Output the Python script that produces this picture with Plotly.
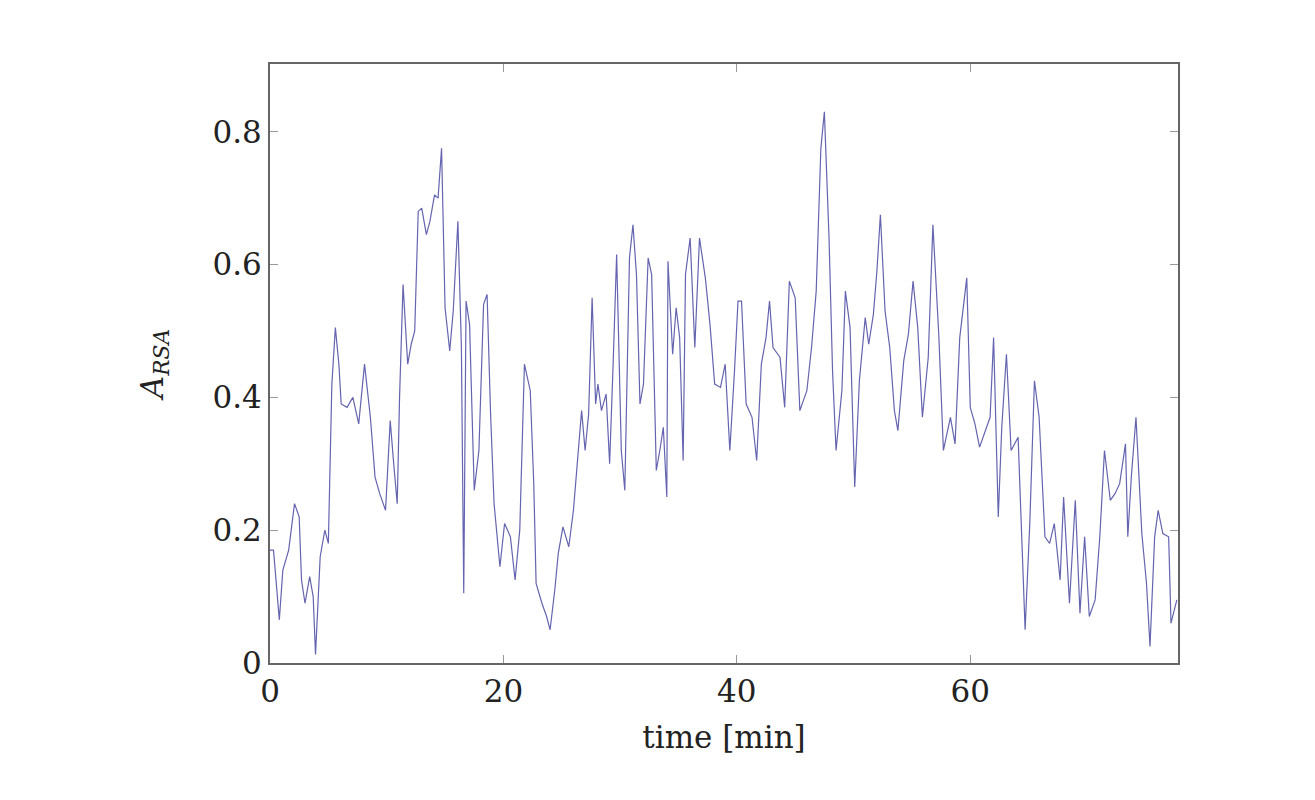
import plotly.graph_objects as go

t = [0,0.3,0.8,1.1,1.6,2.1,2.5,2.7,3.0,3.4,3.7,3.9,4.3,4.7,5.0,5.3,5.6,5.9,6.1,6.6,7.1,7.6,8.1,8.6,9.0,9.4,9.9,10.3,10.6,10.9,11.1,11.4,11.8,12.1,12.4,12.7,13.0,13.4,13.7,14.1,14.4,14.7,15.0,15.4,15.7,16.1,16.4,16.6,16.8,17.1,17.5,17.9,18.3,18.6,18.9,19.2,19.7,20.1,
     20.6,21.0,21.4,21.8,22.3,22.6,22.8,23.3,23.7,24.0,24.4,24.7,25.1,25.6,26.0,26.4,26.7,27.0,27.3,27.6,27.9,28.1,28.4,28.8,29.1,29.4,29.7,30.1,30.4,30.8,31.1,31.4,31.7,32.0,32.4,32.7,33.1,33.4,33.7,34.0,34.1,34.5,34.8,35.1,35.4,35.6,36.0,36.4,36.8,37.3,37.7,38.1,38.6,39.0,39.4,39.8,
     40.1,40.4,40.8,41.3,41.7,42.1,42.5,42.8,43.1,43.7,44.1,44.5,45.0,45.4,46.0,46.4,46.8,47.2,47.5,47.9,48.2,48.5,49.0,49.3,49.7,50.1,50.5,51.0,51.3,51.7,52.0,52.3,52.7,53.1,53.5,53.8,54.3,54.7,55.1,55.5,55.9,56.4,56.8,57.3,57.7,58.3,58.7,59.1,59.7,
     60.0,60.4,60.8,61.2,61.7,62.0,62.4,62.7,63.1,63.5,64.1,64.7,65.1,65.5,65.9,66.4,66.8,67.2,67.7,68.0,68.5,69.0,69.4,69.8,70.2,70.7,71.1,71.5,72.0,72.4,72.8,73.3,73.5,73.8,74.2,74.7,75.1,75.4,75.8,76.1,76.5,77.0,77.2,77.7]
a_rsa = [0.17,0.17,0.065,0.14,0.17,0.24,0.22,0.125,0.09,0.13,0.1,0.013,0.16,0.2,0.18,0.42,0.505,0.45,0.39,0.385,0.4,0.36,0.45,0.37,0.28,0.255,0.23,0.365,0.3,0.24,0.4,0.57,0.45,0.48,0.5,0.68,0.685,0.645,0.665,0.705,0.7,0.775,0.535,0.47,0.53,0.665,0.475,0.105,0.545,0.51,0.26,0.32,0.54,0.555,0.375,0.24,0.145,0.21,
         0.19,0.125,0.2,0.45,0.41,0.27,0.12,0.09,0.07,0.05,0.11,0.165,0.205,0.175,0.23,0.31,0.38,0.32,0.375,0.55,0.39,0.42,0.38,0.405,0.30,0.45,0.615,0.32,0.26,0.61,0.66,0.585,0.39,0.42,0.61,0.585,0.29,0.32,0.355,0.25,0.605,0.465,0.535,0.49,0.305,0.585,0.64,0.475,0.64,0.58,0.51,0.42,0.415,0.45,0.32,0.44,
         0.545,0.545,0.39,0.37,0.305,0.45,0.49,0.545,0.475,0.46,0.385,0.575,0.55,0.38,0.41,0.475,0.56,0.775,0.83,0.64,0.44,0.32,0.41,0.56,0.505,0.265,0.425,0.52,0.48,0.525,0.59,0.675,0.53,0.475,0.38,0.35,0.455,0.495,0.575,0.505,0.37,0.46,0.66,0.495,0.32,0.37,0.33,0.49,0.58,
         0.385,0.36,0.325,0.345,0.37,0.49,0.22,0.355,0.465,0.32,0.34,0.05,0.21,0.425,0.37,0.19,0.18,0.21,0.125,0.25,0.09,0.245,0.075,0.19,0.07,0.095,0.19,0.32,0.245,0.255,0.27,0.33,0.19,0.28,0.37,0.195,0.12,0.025,0.19,0.23,0.195,0.19,0.06,0.095]

x_ticks = [0, 20, 40, 60]
y_ticks = [0, 0.2, 0.4, 0.6, 0.8]
y_labels = ["0", "0.2", "0.4", "0.6", "0.8"]

fig = go.Figure(go.Scatter(x=t, y=a_rsa, mode="lines", line=dict(color="#6464b0", width=1.2)))
font = dict(family="DejaVu Serif, Liberation Serif, serif", size=31, color="#222")
ax = dict(showgrid=False, zeroline=False, showline=True, linecolor="#666", linewidth=2, mirror="ticks",
          ticks="inside", ticklen=8, tickcolor="#999", tickfont=font)
fig.update_layout(
    width=1315, height=800, plot_bgcolor="white", paper_bgcolor="white", showlegend=False,
    margin=dict(l=262, r=145, t=56, b=145),
    xaxis=dict(ax, range=[0, 77.8], tickvals=x_ticks,
               title=dict(text="time [min]", font=font, standoff=18)),
    yaxis=dict(ax, range=[0, 0.902], tickvals=y_ticks, ticktext=y_labels,
               title=dict(text="<i>A<sub>RSA</sub></i>", font=font, standoff=40)),
)
fig.write_html("out.html")
